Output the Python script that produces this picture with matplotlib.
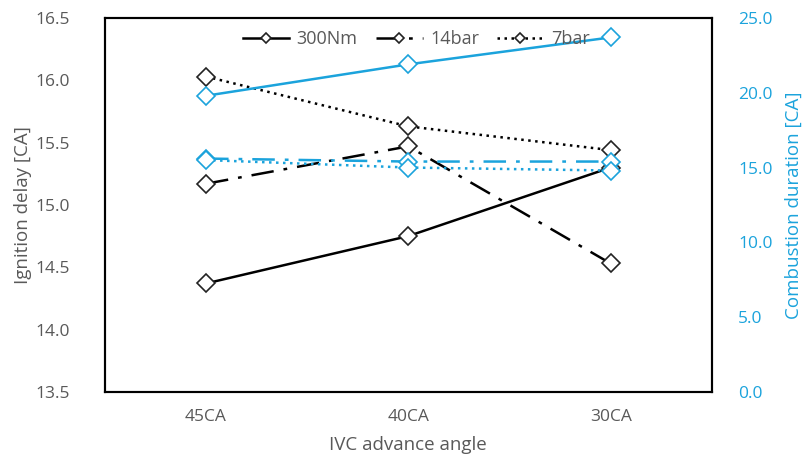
import matplotlib
matplotlib.use("Agg")
import matplotlib.pyplot as plt

plt.rcParams['font.family'] = ['Open Sans', 'DejaVu Sans']

categories = ["45CA", "40CA", "30CA"]
series_names = ["300Nm", "14bar", "7bar"]
ign_300Nm = [14.37, 14.75, 15.30]
ign_14bar = [15.17, 15.47, 14.53]
ign_7bar = [16.03, 15.63, 15.44]
comb_300Nm = [19.8, 21.9, 23.7]
comb_14bar = [15.6, 15.4, 15.4]
comb_7bar = [15.5, 15.0, 14.8]
left_ticks = [13.5, 14.0, 14.5, 15.0, 15.5, 16.0, 16.5]
right_ticks = [0, 5, 10, 15, 20, 25]

GRAY = "#595959"
BLUE = "#1BA3DC"
styles = ['-', (0, (9, 4, 1.5, 4)), (0, (1, 1.8))]

fig = plt.figure(figsize=(8.07, 4.61), dpi=100)
ax = fig.add_axes([0.130, 0.150, 0.752, 0.811])
ax2 = ax.twinx()

x = list(range(len(categories)))
handles = []
for vals, ls, name in zip([ign_300Nm, ign_14bar, ign_7bar], styles, series_names):
    h, = ax.plot(x, vals, color="black", linestyle=ls, lw=1.8, marker='D',
                 markersize=9.5, markerfacecolor='white', markeredgecolor='#222222',
                 markeredgewidth=1.2, label=name, zorder=3)
    handles.append(h)
for vals, ls in zip([comb_300Nm, comb_14bar, comb_7bar], styles):
    ax2.plot(x, vals, color=BLUE, linestyle=ls, lw=1.8, marker='D',
             markersize=9.5, markerfacecolor='white', markeredgecolor=BLUE,
             markeredgewidth=1.2, zorder=3)

ax.set_xlim(-0.5, 2.5)
ax.set_ylim(13.5, 16.5)
ax.set_yticks(left_ticks)
ax.set_yticklabels([f"{v:.1f}" for v in left_ticks])
ax.set_xticks(x)
ax.set_xticklabels(categories)
ax2.set_ylim(0, 25)
ax2.set_yticks(right_ticks)
ax2.set_yticklabels([f"{v:.1f}" for v in right_ticks])

ax.tick_params(axis='y', length=0, labelsize=12.5, colors=GRAY, pad=25)
ax.tick_params(axis='x', length=0, labelsize=12.5, colors=GRAY, pad=12)
ax2.tick_params(axis='y', length=0, labelsize=12.5, colors=BLUE, pad=19)

for a in (ax, ax2):
    for s in a.spines.values():
        s.set_color("black")
        s.set_linewidth(1.5)

ax.set_xlabel("IVC advance angle", fontsize=13.5, color=GRAY, labelpad=8)
ax.set_ylabel("Ignition delay [CA]", fontsize=13.5, color=GRAY, labelpad=3)
ax2.set_ylabel("Combustion duration [CA]", fontsize=13.5, color=BLUE, labelpad=9)

leg = ax2.legend(handles, series_names, loc='upper center', bbox_to_anchor=(0.513, 1.01),
                 ncol=3, frameon=False, fontsize=13, handlelength=2.6,
                 markerscale=0.55, columnspacing=1.0, handletextpad=0.4)
for t in leg.get_texts():
    t.set_color(GRAY)

fig.savefig("out.png", dpi=100)
